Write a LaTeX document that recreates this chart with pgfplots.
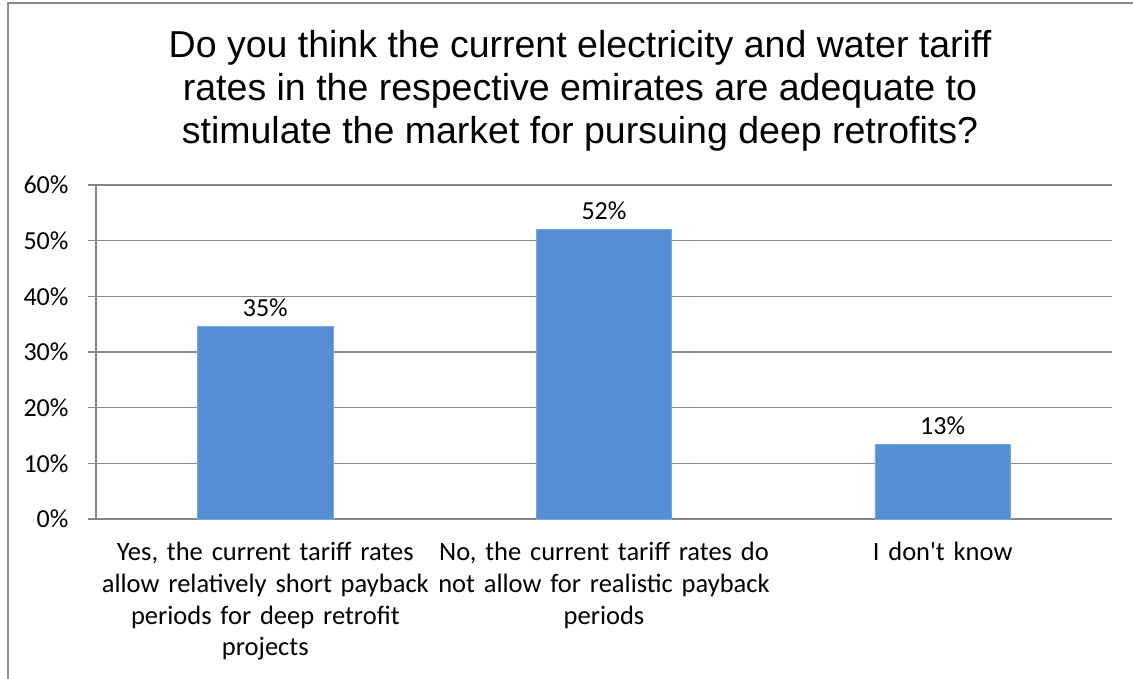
\documentclass[border=0pt]{standalone}
\usepackage{fontspec}
\setmainfont{Carlito}[Ligatures=TeXOff]
\newfontfamily\titlefont{Liberation Sans}
\usepackage{pgfplots}
\pgfplotsset{compat=1.18}
\definecolor{barblue}{HTML}{558ED5}
\definecolor{gridgray}{HTML}{868686}
\definecolor{framegray}{HTML}{8C8C8C}
\begin{document}
\begin{tikzpicture}
\begin{axis}[
  at={(0,0)}, anchor=south west,
  scale only axis, width=1016bp, height=334bp,
  xmin=-0.5, xmax=2.5, ymin=0, ymax=60,
  axis x line*=bottom, axis y line*=left,
  axis line style={draw=gridgray, line width=1.3bp, -},
  ymajorgrids, grid style={draw=gridgray, line width=1.3bp},
  tick align=outside, major tick length=8bp,
  tick style={draw=gridgray, line width=1.3bp},
  ytick={0,10,20,30,40,50,60},
  yticklabels={0\%,10\%,20\%,30\%,40\%,50\%,60\%},
  yticklabel style={font=\fontsize{26bp}{30bp}\selectfont, text=black, xshift=-16bp},
  xtick={0,1,2},
  major x tick style={draw=none},
  xticklabels={
    {Yes, the current tariff rates\\allow relatively short payback\\periods for deep retrofit\\projects},
    {No, the current tariff rates do\\not allow for realistic payback\\periods},
    {I don't know}},
  xticklabel style={font=\fontsize{26.5bp}{31.7bp}\selectfont, text=black,
    text width=345bp, align=center, anchor=north, inner sep=0pt, yshift=-15bp},
  extra x ticks={-0.5,0.5,1.5,2.5},
  extra x tick labels={},
  extra x tick style={major tick length=8bp, tick style={draw=gridgray, line width=1.3bp}},
  ybar, bar width=0.4,
  /pgf/number format/assume math mode=true,
  nodes near coords={\pgfmathprintnumber[fixed,precision=0]{\pgfplotspointmeta}\%},
  nodes near coords style={font=\fontsize{26bp}{30bp}\selectfont, text=black, anchor=south, yshift=6bp},
]
\addplot[fill=barblue, draw=barblue!80!white, line width=0.8bp] coordinates {(0,34.67) (1,52.00) (2,13.33)};
\end{axis}
\draw[framegray, line width=2bp] (-88bp,-170bp) -- (-88bp,516bp) -- (1045bp,516bp);
\node[font=\titlefont\fontsize{37.5bp}{43bp}\selectfont, align=center] at (484bp,428bp)
  {Do you think the current electricity and water tariff\\rates in the respective emirates are adequate to\\stimulate the market for pursuing deep retrofits?};
\pgfresetboundingbox
\path[use as bounding box] (-96bp,-160bp) rectangle (1037bp,519bp);
\end{tikzpicture}
\end{document}
